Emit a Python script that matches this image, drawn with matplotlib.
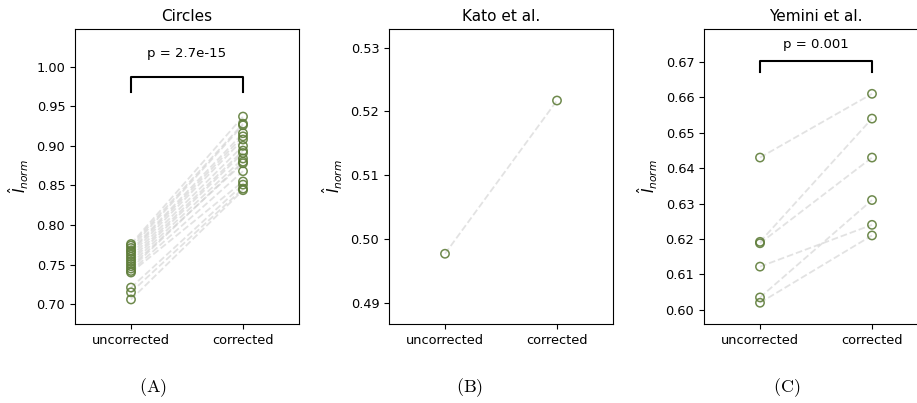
import matplotlib
matplotlib.use("Agg")
import numpy as np
from matplotlib import pyplot as plt

plt.rcParams['mathtext.fontset'] = 'dejavusans'

conditions = ['uncorrected', 'corrected']

circles_uncorr = [0.776, 0.774, 0.771, 0.768, 0.766, 0.763, 0.760, 0.757, 0.754,
                  0.751, 0.748, 0.745, 0.742, 0.740, 0.721, 0.715, 0.706]
circles_corr = [0.937, 0.928, 0.926, 0.916, 0.912, 0.908, 0.900, 0.894, 0.891,
                0.884, 0.878, 0.880, 0.868, 0.855, 0.851, 0.846, 0.844]

kato_uncorr = [0.4977]
kato_corr = [0.5217]

yemini_uncorr = [0.643, 0.6192, 0.6188, 0.6122, 0.6035, 0.602]
yemini_corr = [0.661, 0.654, 0.643, 0.624, 0.631, 0.621]

panels = [
    ('Circles', circles_uncorr, circles_corr, (0.675, 1.0476),
     [0.70, 0.75, 0.80, 0.85, 0.90, 0.95, 1.00], 'p = 2.7e-15',
     (0.9874, 0.9677, 1.017), '(A)'),
    ('Kato et al.', kato_uncorr, kato_corr, (0.4867, 0.5329),
     [0.49, 0.50, 0.51, 0.52, 0.53], None, None, '(B)'),
    ('Yemini et al.', yemini_uncorr, yemini_corr, (0.5960, 0.6793),
     [0.60, 0.61, 0.62, 0.63, 0.64, 0.65, 0.66, 0.67], 'p = 0.001',
     (0.6703, 0.6671, 0.675), '(C)'),
]

lefts = [75 / 917, 389 / 917, 704 / 917]
cap_x = [153 / 917, 470 / 917, 787 / 917]
green = '#5f7d3a'

fig = plt.figure(figsize=(9.17, 4.03), dpi=100)

for left, cx, (title, unc, cor, ylim, yticks, ptext, br, cap) in zip(lefts, cap_x, panels):
    ax = fig.add_axes([left, 79 / 403, 224 / 917, 295 / 403])
    for a, b in zip(unc, cor):
        ax.plot([0, 1], [a, b], linestyle='--', color='#d0d0d0', alpha=0.6,
                linewidth=1.3, zorder=1)
    ax.scatter(np.zeros(len(unc)), unc, s=36, facecolors='none',
               edgecolors=green, linewidths=1.1, alpha=0.9, zorder=2)
    ax.scatter(np.ones(len(cor)), cor, s=36, facecolors='none',
               edgecolors=green, linewidths=1.1, alpha=0.9, zorder=2)
    ax.set_xlim(-0.5, 1.5)
    ax.set_ylim(*ylim)
    ax.set_xticks([0, 1])
    ax.set_xticklabels(conditions, fontsize=9.3)
    ax.set_yticks(yticks)
    ax.set_yticklabels(['{:.2f}'.format(t) for t in yticks], fontsize=9.3)
    ax.set_title(title, fontsize=11)
    ax.set_ylabel(r'$\hat{I}_{norm}$', fontsize=11)
    if ptext is not None:
        top, bot, ty = br
        ax.plot([0, 0, 1, 1], [bot, top, top, bot], color='black', linewidth=1.5)
        ax.text(0.5, ty, ptext, ha='center', va='center', fontsize=9.5)
    fig.text(cx, 1 - 388 / 403, r'$\mathrm{' + cap + '}$', ha='center', va='center',
             fontsize=13, math_fontfamily='cm')

fig.savefig('out.png', dpi=100)
